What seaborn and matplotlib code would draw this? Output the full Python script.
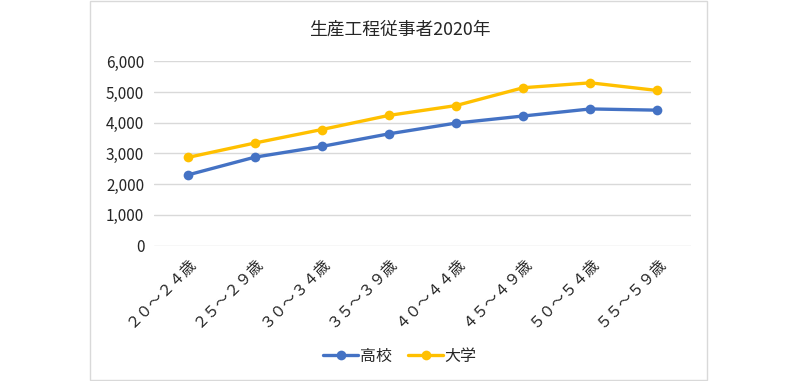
import matplotlib
matplotlib.use("Agg")
import matplotlib.pyplot as plt
import seaborn as sns
import pandas as pd
from matplotlib.patches import Rectangle
from matplotlib.ticker import FuncFormatter
from matplotlib.lines import Line2D

categories = ["２０～２４歳", "２５～２９歳", "３０～３４歳", "３５～３９歳",
              "４０～４４歳", "４５～４９歳", "５０～５４歳", "５５～５９歳"]
koukou = [2300, 2880, 3230, 3640, 3990, 4220, 4450, 4410]
daigaku = [2870, 3340, 3780, 4240, 4560, 5140, 5300, 5050]
series_names = ["高校", "大学"]
title = "生産工程従事者2020年"

sns.set_theme(style="white")
plt.rcParams['font.family'] = ['Noto Sans CJK JP', 'DejaVu Sans']

df = pd.DataFrame({
    "x": list(range(len(categories))) * 2,
    "value": koukou + daigaku,
    "series": [series_names[0]] * len(categories) + [series_names[1]] * len(categories),
})

txt = "#262626"
fig = plt.figure(figsize=(8, 3.81), dpi=100)
fig.patches.append(Rectangle((90/800, 1/381), 617/800, 379/381, transform=fig.transFigure,
                             fill=False, edgecolor="#D9D9D9", linewidth=1.0))
ax = fig.add_axes([154/800, 1 - 245.7/381, 537/800, (245.7 - 61.3)/381])

palette = {"高校": "#4472C4", "大学": "#FFC000"}
sns.lineplot(data=df, x="x", y="value", hue="series", palette=palette, marker="o",
             markersize=7, markeredgewidth=0, linewidth=2.4, ax=ax, legend=False, sort=False)

ax.set_xlim(-0.5, len(categories) - 0.5)
ax.set_ylim(0, 6000)
ax.set_yticks(range(0, 6001, 1000))
ax.yaxis.set_major_formatter(FuncFormatter(lambda v, p: f"{int(v):,}"))
ax.set_xticks(range(len(categories)))
ax.set_xticklabels(categories, rotation=45, ha="right", rotation_mode="anchor")
ax.tick_params(axis="both", length=0, labelsize=11, colors=txt)
ax.tick_params(axis="y", pad=7)
ax.tick_params(axis="x", pad=6)
ax.set_xlabel("")
ax.set_ylabel("")
ax.grid(axis="y", color="#D9D9D9", linewidth=1.0)
ax.grid(axis="x", visible=False)
for s in ax.spines.values():
    s.set_visible(False)

fig.text(400/800, 1 - 30/381, title, ha="center", va="center", fontsize=12.8, color=txt)

handles = [Line2D([], [], color=palette[n], marker="o", markersize=7, linewidth=2.4, markeredgewidth=0)
           for n in series_names]
fig.legend(handles, series_names, loc="center", bbox_to_anchor=(400/800, 1 - 356/381), ncol=2,
           frameon=False, fontsize=11.5, handlelength=2.2, handletextpad=0.1, columnspacing=1.0,
           labelcolor=txt)

fig.savefig("out.png", dpi=100, facecolor="white")
